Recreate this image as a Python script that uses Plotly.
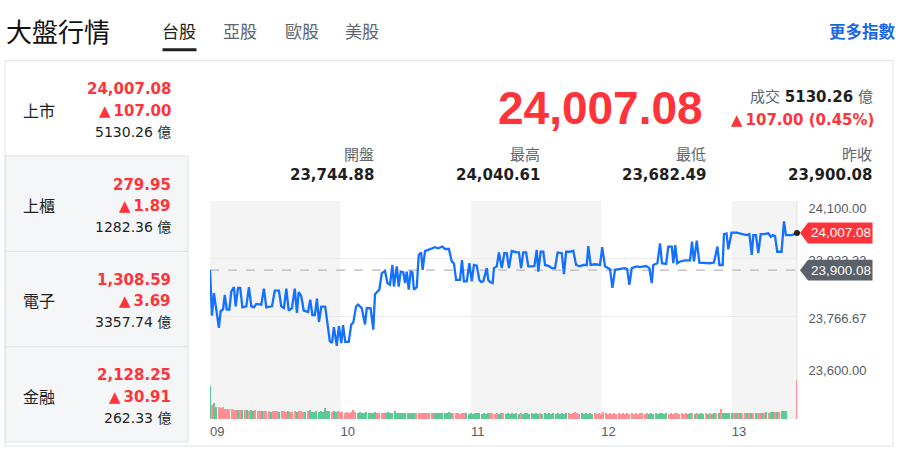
import plotly.graph_objects as go

W, H = 901, 451
def px(x): return x / W
def py(y): return 1 - y / H

# ---------------- data ----------------
hour_ticks = [0, 60, 120, 180, 240]
hour_labels = ["09", "10", "11", "12", "13"]

# minutes after 09:00 and index level (加權指數)
minutes = [0, 0.9, 1.8, 2.8, 4.1, 4.9, 6.0, 6.8, 7.7, 8.9, 9.8, 11.0, 11.8, 12.9, 13.9, 14.9, 16.7, 17.9, 19.0, 20.2,
           21.3, 23.6, 24.8, 25.9, 28.5, 29.8, 31.7, 32.8, 34.0, 35.1, 36.2, 37.7, 39.0, 40.0, 40.8, 42.0, 43.1, 45.1,
           46.1, 47.1, 48.2, 49.2, 50.1, 51.2, 53.0, 55.1, 56.1, 57.0, 58.3, 59.3, 60.4, 61.2, 62.2, 63.8, 65.0, 65.9,
           67.2, 68.1, 69.8, 71.3, 72.1, 73.9, 75.1, 75.9, 77.9, 79.0, 80.5, 81.6, 82.8, 83.9, 84.6, 85.9, 86.8, 87.7,
           88.9, 89.7, 90.5, 91.4, 92.3, 93.1, 93.8, 95.1, 96.0, 97.1, 97.8, 98.9, 101.2, 103.5, 105.0, 106.9, 108.1,
           109.9, 111.2, 112.2, 113.2, 115.0, 115.9, 116.8, 118.1, 119.3, 120.4, 121.4, 122.7, 123.9, 124.7, 125.7,
           127.3, 128.0, 128.8, 130.0, 130.6, 131.9, 132.9, 133.4, 134.2, 135.4, 136.5, 137.5, 138.8, 141.1, 142.1,
           143.1, 144.1, 145.4, 146.4, 148.3, 149.2, 150.3, 151.0, 152.1, 153.3, 154.1, 155.9, 157.2, 158.7, 159.9,
           161.8, 162.8, 163.8, 165.6, 167.1, 168.4, 170.2, 171.7, 173.3, 174.0, 175.1, 177.1, 179.4, 180.4, 181.7,
           184.0, 185.1, 186.3, 188.6, 190.9, 191.9, 192.9, 194.0, 196.3, 197.8, 199.3, 200.6, 202.1, 203.2, 203.9,
           205.8, 207.0, 207.9, 209.8, 210.8, 212.4, 213.1, 214.0, 214.9, 216.2, 218.5, 220.8, 221.7, 222.6, 223.9,
           225.1, 227.7, 230.0, 231.8, 233.4, 234.3, 235.8, 236.4, 237.6, 238.4, 239.9, 242.2, 244.5, 246.8, 248.1,
           249.2, 249.9, 251.1, 252.2, 253.3, 254.8, 256.8, 257.9, 258.8, 259.9, 260.9, 262.9, 264.0, 264.9, 267.6,
           270]
prices = [23901, 23769, 23834, 23783, 23734, 23782, 23787, 23829, 23787, 23787, 23839, 23851, 23796, 23849, 23849,
          23793, 23796, 23851, 23796, 23793, 23803, 23801, 23847, 23793, 23796, 23841, 23841, 23796, 23791, 23847,
          23784, 23791, 23847, 23777, 23837, 23825, 23784, 23780, 23815, 23771, 23771, 23818, 23751, 23795, 23795,
          23696, 23691, 23736, 23682.49, 23739, 23690, 23742, 23694, 23694, 23744, 23749, 23796, 23801, 23791, 23744,
          23791, 23790, 23729, 23831, 23844, 23891, 23898, 23863, 23858, 23915, 23853, 23911, 23853, 23896, 23894,
          23863, 23896, 23844, 23896, 23894, 23844, 23851, 23944, 23951, 23901, 23955, 23961, 23966, 23963, 23968,
          23961, 23961, 23925, 23920, 23872, 23872, 23929, 23868, 23868, 23920, 23868, 23915, 23913, 23872, 23866,
          23868, 23906, 23872, 23866, 23863, 23906, 23911, 23951, 23934, 23906, 23949, 23949, 23906, 23955, 23951,
          23951, 23906, 23951, 23951, 23911, 23911, 23912, 23958, 23896, 23953, 23953, 23915, 23912, 23906, 23906,
          23951, 23949, 23889, 23953, 23953, 23956, 23915, 23911, 23915, 23915, 23969, 23915, 23917, 23915, 23966,
          23911, 23903, 23849, 23901, 23903, 23906, 23903, 23858, 23906, 23911, 23909, 23911, 23912, 23906, 23863,
          23915, 23920, 23977, 23920, 23918, 23968, 23968, 23920, 23972, 23920, 23925, 23928, 23928, 23982, 23925,
          23985, 23922, 23920, 23920, 23922, 23968, 23915, 23915, 24004, 24006, 23960, 24008, 24008, 24004, 24001,
          24004, 23944, 24001, 24001, 23949, 24004, 24004, 24006, 23996, 24001, 23998, 23953, 23953, 24040.61, 24001,
          24001, 24007.08]

# per-minute volume (億) 09:00-13:24, then the 13:30 closing auction
vol_minutes = list(range(266)) + [270]
volumes = [98, 40, 47, 35, 35, 32, 35, 30, 28, 28,
           28, 27, 27, 26, 25, 25, 26, 25, 24, 25,
           24, 25, 23, 24, 22, 23, 22, 24, 21, 22,
           23, 22, 21, 22, 23, 21, 22, 20, 21, 22,
           21, 23, 22, 20, 21, 22, 26, 21, 20, 22,
           21, 22, 20, 32, 23, 22, 21, 22, 21, 22,
           20, 19, 18, 19, 18, 20, 25, 19, 18, 19,
           18, 17, 19, 18, 17, 18, 19, 18, 17, 18,
           17, 18, 19, 17, 18, 22, 18, 17, 18, 17,
           17, 18, 17, 16, 18, 17, 16, 17, 18, 16,
           17, 16, 17, 16, 17, 18, 16, 17, 16, 17,
           20, 17, 16, 17, 16, 15, 16, 17, 16, 15,
           16, 15, 16, 17, 16, 15, 16, 15, 16, 17,
           16, 15, 16, 15, 17, 16, 15, 16, 15, 16,
           15, 16, 15, 16, 15, 16, 17, 15, 16, 15,
           16, 15, 16, 15, 16, 15, 16, 15, 16, 15,
           16, 15, 16, 15, 16, 16, 15, 16, 20, 16,
           15, 16, 15, 16, 15, 16, 15, 16, 15, 16,
           15, 19, 16, 15, 16, 15, 16, 15, 16, 15,
           16, 15, 16, 15, 16, 15, 16, 15, 16, 17,
           15, 16, 15, 16, 15, 16, 15, 16, 17, 15,
           16, 15, 16, 15, 16, 17, 15, 16, 15, 16,
           15, 16, 17, 15, 16, 15, 16, 15, 16, 15,
           16, 15, 16, 17, 16, 28, 17, 16, 17, 16,
           17, 16, 17, 16, 17, 18, 17, 16, 17, 18,
           17, 18, 17, 18, 17, 18, 19, 18, 19, 20,
           19, 20, 21, 22, 23, 24,
           118]
vol_dirs = ("grggrrrrrr" "rrrgrgrgrg" "grrrgrrrgr" "rrgrrrgrrr" "grrrgrgggg" "ggggggrggr"
            "rrrrrrrrgg" "gggggggrrr" "rggggggggg" "gggggrrrrr" "rrrggggggg" "ggrrrrrrgg"
            "gggggggggr" "rrrggrgggg" "gggrgggggg" "ggrggggggg" "gggggrrrrr" "rggggggrrr"
            "rrrrrrrrrr" "rrrrrrrrrr" "rrgggggggg" "grrrrrrrrr" "ggrgrgggrg" "rggrgrgggg"
            "grgrgrrgrg" "rgrrgrgrgg" "rgrggg" "r")

last_price = 24007.08
prev_close = 23900.08
y_ticks = [24100.00, 23933.33, 23766.67, 23600.00]
y_tick_labels = ["24,100.00", "23,933.33", "23,766.67", "23,600.00"]

tabs = ["台股", "亞股", "歐股", "美股"]
markets = ["上市", "上櫃", "電子", "金融"]
market_values = ["24,007.08", "279.95", "1,308.59", "2,128.25"]
market_changes = ["107.00", "1.89", "3.69", "30.91"]
market_amounts = ["5130.26", "1282.36", "3357.74", "262.33"]
stat_labels = ["開盤", "最高", "最低", "昨收"]
stat_values = ["23,744.88", "24,040.61", "23,682.49", "23,900.08"]
turnover = "5130.26"
change_text = "107.00 (0.45%)"

# ---------------- style ----------------
RED = "#ff333a"
DARK = "#1d1f23"
GRAY = "#5e656c"
LINE = "#1470ff"
CJK = "Noto Sans CJK TC"
NUM = "DejaVu Sans, Noto Sans CJK TC"
ARIAL = "Liberation Sans, Arial"
VOL_RED = "#ff8f95"
VOL_GREEN = "#5cc894"

PLOT_L, PLOT_R = 210, 797
PLOT_TOP, PLOT_MID, PLOT_BOT = 202, 377, 422
Y_MIN, Y_MAX = 23600, 24100
units_per_px = (Y_MAX - Y_MIN) / (PLOT_MID - PLOT_TOP)

fig = go.Figure()

fig.add_trace(go.Bar(
    x=vol_minutes, y=volumes, xaxis="x", yaxis="y2", width=0.62,
    marker=dict(color=[VOL_RED if d == "r" else VOL_GREEN for d in vol_dirs], line=dict(width=0)),
    hoverinfo="skip", showlegend=False))
fig.add_trace(go.Scatter(
    x=minutes, y=prices, xaxis="x", yaxis="y", mode="lines",
    line=dict(color=LINE, width=2.3), hoverinfo="skip", showlegend=False))
fig.add_trace(go.Scatter(
    x=[minutes[-1]], y=[prices[-1]], xaxis="x", yaxis="y", mode="markers",
    marker=dict(color="#222222", size=6), cliponaxis=False, hoverinfo="skip", showlegend=False))
fig.add_trace(go.Scatter(x=[None], y=[None], xaxis="x", yaxis="y3", showlegend=False, hoverinfo="skip"))

shapes = []
# card frame
shapes.append(dict(type="rect", xref="paper", yref="paper", x0=px(5), x1=px(893), y0=py(449), y1=py(61),
                   line=dict(color="#e2e3e5", width=1), fillcolor="white", layer="below"))
# grey market column
shapes.append(dict(type="rect", xref="paper", yref="paper", x0=px(5.5), x1=px(188), y0=py(445), y1=py(157),
                   line=dict(color="#dfe1e4", width=1), fillcolor="#f5f6f8", layer="below"))
for yy in (253, 349):
    shapes.append(dict(type="line", xref="paper", yref="paper", x0=px(5.5), x1=px(188), y0=py(yy), y1=py(yy),
                       line=dict(color="#dfe1e4", width=1), layer="below"))
# tab underline
shapes.append(dict(type="rect", xref="paper", yref="paper", x0=px(162.5), x1=px(196.5), y0=py(51.5), y1=py(48.5),
                   line=dict(width=0), fillcolor=DARK))
# alternating hour bands
for a, b in ((0, 60), (120, 180), (240, 270)):
    shapes.append(dict(type="rect", xref="x", yref="paper", x0=a, x1=b, y0=py(PLOT_BOT), y1=py(PLOT_TOP),
                       line=dict(width=0), fillcolor="#f4f4f4", layer="below"))
# right border of plot
shapes.append(dict(type="line", xref="paper", yref="paper", x0=px(PLOT_R), x1=px(PLOT_R),
                   y0=py(PLOT_BOT), y1=py(PLOT_TOP), line=dict(color="#e3e3e3", width=1), layer="below"))
# previous close dashed line
shapes.append(dict(type="line", xref="paper", yref="y", x0=px(PLOT_L), x1=px(800), y0=prev_close, y1=prev_close,
                   line=dict(color="#b8b8b8", width=1.3, dash="dash"), layer="below"))

def price_tag(value, color):
    hh = 10.5 * units_per_px
    tip, body_l, body_r = px(800), px(808), px(872.5)
    path = (f"M {tip},{value} L {body_l},{value + hh} L {body_r},{value + hh} "
            f"L {body_r},{value - hh} L {body_l},{value - hh} Z")
    shapes.append(dict(type="path", xref="paper", yref="y", path=path, fillcolor=color,
                       line=dict(width=0), layer="above"))
    fig.add_annotation(x=px(840.5), y=value, xref="paper", yref="y", text=f"{value:,.2f}", showarrow=False,
                       xanchor="center", yanchor="middle", font=dict(family=ARIAL, size=13.5, color="white"))

price_tag(last_price, RED)
price_tag(prev_close, "#5b6168")

def txt(x, y, s, size, color, family, anchor="left", weight="normal"):
    fig.add_annotation(x=px(x), y=py(y), xref="paper", yref="paper", text=s, showarrow=False,
                       xanchor=anchor, yanchor="middle",
                       font=dict(size=size, color=color, family=family, weight=weight))

# header
txt(4, 31, "大盤行情", 26, "#111111", CJK)
for t, cx in zip(tabs, (179, 239.5, 301.5, 362)):
    txt(cx, 31, t, 17, DARK if t == tabs[0] else GRAY, CJK, anchor="center")
txt(898, 31, "更多指數", 16.5, "#1668e3", CJK, anchor="right", weight="bold")

# market list
for i, (m, v, c, a) in enumerate(zip(markets, market_values, market_changes, market_amounts)):
    top = 61 + 96 * i
    txt(21, top + 49.5, m, 16, DARK, CJK)
    txt(173, top + 29, v, 15, RED, NUM, anchor="right", weight="bold")
    txt(173, top + 50.5, "▲\u2009" + c, 15, RED, NUM, anchor="right", weight="bold")
    txt(173, top + 71.5, a + " 億", 14, DARK, NUM, anchor="right")

# big quote
txt(705, 109, "24,007.08", 46, RED, "Liberation Sans, Arial", anchor="right", weight="bold")
txt(875, 98, f"成交 <b><span style='color:{DARK}'>{turnover}</span></b> 億", 15, GRAY, NUM, anchor="right")
txt(876, 121, "▲\u2009" + change_text, 15, RED, NUM, anchor="right", weight="bold")

for lab, val, rx in zip(stat_labels, stat_values, (376, 542, 708, 874)):
    txt(rx, 155, lab, 15, GRAY, CJK, anchor="right")
    txt(rx, 176, val, 15, DARK, NUM, anchor="right", weight="bold")

# axis label offsets for the outer ticks (labels sit inside the plot band)
lab_shift = 1.5 * units_per_px
shifted = [y_ticks[0] - 6 * units_per_px - lab_shift, y_ticks[1] - lab_shift,
           y_ticks[2] - lab_shift, y_ticks[3] + 6 * units_per_px - lab_shift]

fig.update_layout(
    width=W, height=H, margin=dict(l=0, r=0, t=0, b=0),
    paper_bgcolor="white", plot_bgcolor="rgba(0,0,0,0)",
    shapes=shapes, showlegend=False, bargap=0,
    xaxis=dict(domain=[px(PLOT_L), px(PLOT_R)], range=[0, 270], anchor="y2",
               tickvals=hour_ticks, ticktext=hour_labels, ticklabelposition="outside right",
               ticks="", showgrid=False, zeroline=False, showline=False, ticklabelstandoff=3,
               tickfont=dict(family=ARIAL, size=13, color="#555b62")),
    yaxis=dict(domain=[py(PLOT_MID), py(PLOT_TOP)], range=[Y_MIN, Y_MAX], anchor="x",
               tickvals=y_ticks, showticklabels=False, showgrid=True, gridcolor="#ebebeb",
               gridwidth=1, zeroline=False, ticks=""),
    yaxis2=dict(domain=[py(PLOT_BOT), py(PLOT_MID)], range=[0, 135], anchor="x",
                showgrid=False, showticklabels=False, zeroline=False, ticks=""),
    yaxis3=dict(overlaying="y", side="right", anchor="x", range=[Y_MIN, Y_MAX],
                tickvals=shifted, ticktext=y_tick_labels, showgrid=False, zeroline=False,
                ticks="outside", ticklen=8, tickcolor="rgba(0,0,0,0)",
                tickfont=dict(family=ARIAL, size=13, color="#555b62")),
)

fig.write_html("out.html", config={"displayModeBar": False},
               post_script="document.body.style.margin='0px';")
